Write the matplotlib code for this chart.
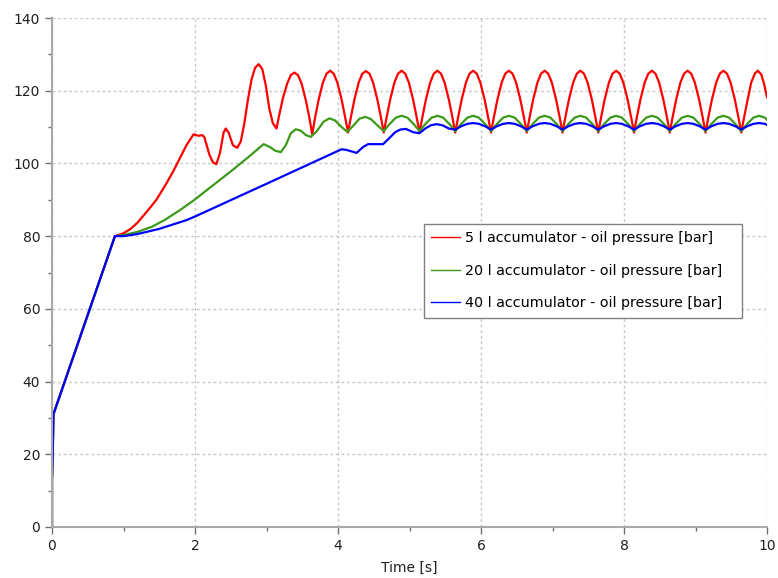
import numpy as np
import matplotlib
matplotlib.use('Agg')
import matplotlib.pyplot as plt

# 5 l accumulator (red)
t_5l = [0.0, 0.0, 0.01, 0.02, 0.88, 1.0, 1.1, 1.2, 1.35, 1.46, 1.6, 1.7, 1.88, 1.98,
        2.05, 2.1, 2.13, 2.2, 2.25, 2.3, 2.35, 2.4, 2.43, 2.47, 2.53, 2.59,
        2.64, 2.69, 2.74, 2.79, 2.84, 2.89, 2.94, 2.99, 3.04, 3.09,
        3.14, 3.18, 3.23, 3.29, 3.34, 3.39, 3.44, 3.49, 3.55, 3.60,
        3.64, 3.68, 3.73, 3.79, 3.84, 3.89, 3.94, 3.99, 4.05, 4.10,
        4.14, 4.18, 4.23, 4.29, 4.34, 4.39, 4.44, 4.49, 4.55, 4.60,
        4.64, 4.68, 4.73, 4.79, 4.84, 4.89, 4.94, 4.99, 5.05, 5.10,
        5.14, 5.18, 5.23, 5.29, 5.34, 5.39, 5.44, 5.49, 5.55, 5.60,
        5.64, 5.68, 5.73, 5.79, 5.84, 5.89, 5.94, 5.99, 6.05, 6.10,
        6.14, 6.18, 6.23, 6.29, 6.34, 6.39, 6.44, 6.49, 6.55, 6.60,
        6.64, 6.68, 6.73, 6.79, 6.84, 6.89, 6.94, 6.99, 7.05, 7.10,
        7.14, 7.18, 7.23, 7.29, 7.34, 7.39, 7.44, 7.49, 7.55, 7.60,
        7.64, 7.68, 7.73, 7.79, 7.84, 7.89, 7.94, 7.99, 8.05, 8.10,
        8.14, 8.18, 8.23, 8.29, 8.34, 8.39, 8.44, 8.49, 8.55, 8.60,
        8.64, 8.68, 8.73, 8.79, 8.84, 8.89, 8.94, 8.99, 9.05, 9.10,
        9.14, 9.18, 9.23, 9.29, 9.34, 9.39, 9.44, 9.49, 9.55, 9.60,
        9.64, 9.68, 9.73, 9.78, 9.83, 9.87, 9.92, 9.96, 10.0]
p_5l = [0.0, 13.0, 20.0, 31.0, 80.0, 80.8, 82.0, 83.8, 87.3, 90.0, 94.5, 98.0, 105.0, 108.0,
        107.6, 107.8, 107.3, 102.5, 100.3, 99.8, 103.0, 108.5, 109.6, 108.5, 105.0, 104.3,
        106.0, 111.0, 117.5, 123.0, 126.3, 127.3, 126.0, 121.5, 115.0, 111.0,
        109.6, 113.5, 118.0, 122.0, 124.3, 125.0, 124.3, 122.0, 117.4, 112.5,
        108.0, 112.7, 117.6, 122.3, 124.7, 125.5, 124.7, 122.3, 117.6, 112.7,
        108.5, 112.7, 117.6, 122.3, 124.7, 125.4, 124.7, 122.3, 117.6, 112.7,
        108.5, 112.7, 117.6, 122.3, 124.7, 125.5, 124.7, 122.3, 117.6, 112.7,
        108.5, 112.7, 117.6, 122.3, 124.7, 125.5, 124.7, 122.3, 117.6, 112.7,
        108.5, 112.7, 117.6, 122.3, 124.7, 125.5, 124.7, 122.3, 117.6, 112.7,
        108.5, 112.7, 117.6, 122.3, 124.7, 125.5, 124.7, 122.3, 117.6, 112.7,
        108.5, 112.7, 117.6, 122.3, 124.7, 125.5, 124.7, 122.3, 117.6, 112.7,
        108.5, 112.7, 117.6, 122.3, 124.7, 125.5, 124.7, 122.3, 117.6, 112.7,
        108.5, 112.7, 117.6, 122.3, 124.7, 125.5, 124.7, 122.3, 117.6, 112.7,
        108.5, 112.7, 117.6, 122.3, 124.7, 125.5, 124.7, 122.3, 117.6, 112.7,
        108.5, 112.7, 117.6, 122.3, 124.7, 125.5, 124.7, 122.3, 117.6, 112.7,
        108.5, 112.7, 117.6, 122.3, 124.7, 125.5, 124.7, 122.3, 117.6, 112.7,
        108.5, 112.7, 117.6, 122.3, 124.7, 125.5, 124.5, 121.8, 118.2]

# 20 l accumulator (green)
t_20l = [0.0, 0.0, 0.01, 0.02, 0.88, 1.0, 1.2, 1.4, 1.58, 1.8, 1.98, 2.2, 2.5, 2.75, 2.96,
         3.05, 3.12, 3.2, 3.27, 3.34, 3.41, 3.48, 3.55, 3.62, 3.7, 3.8, 3.88, 3.96, 4.05,
         4.13, 4.22, 4.3, 4.38, 4.46, 4.55,
         4.64, 4.72, 4.81, 4.89, 4.97, 5.06,
         5.14, 5.22, 5.31, 5.39, 5.47, 5.56,
         5.64, 5.72, 5.81, 5.89, 5.97, 6.06,
         6.14, 6.22, 6.31, 6.39, 6.47, 6.56,
         6.64, 6.72, 6.81, 6.89, 6.97, 7.06,
         7.14, 7.22, 7.31, 7.39, 7.47, 7.56,
         7.64, 7.72, 7.81, 7.89, 7.97, 8.06,
         8.14, 8.22, 8.31, 8.39, 8.47, 8.56,
         8.64, 8.72, 8.81, 8.89, 8.97, 9.06,
         9.14, 9.22, 9.31, 9.39, 9.47, 9.56,
         9.64, 9.72, 9.81, 9.89, 9.97, 10.0]
p_20l = [0.0, 13.0, 20.0, 31.0, 80.0, 80.3, 81.2, 82.6, 84.5, 87.3, 89.8, 93.2, 97.8, 101.8, 105.3,
         104.5, 103.5, 103.1, 105.0, 108.3, 109.4, 109.0, 107.8, 107.3, 108.8, 111.5, 112.4, 111.8, 110.0,
         108.7, 110.5, 112.3, 112.8, 112.2, 110.5,
         108.9, 110.8, 112.6, 113.1, 112.6, 110.8,
         108.9, 110.8, 112.6, 113.1, 112.6, 110.8,
         108.9, 110.8, 112.6, 113.1, 112.6, 110.8,
         108.9, 110.8, 112.6, 113.1, 112.6, 110.8,
         108.9, 110.8, 112.6, 113.1, 112.6, 110.8,
         108.9, 110.8, 112.6, 113.1, 112.6, 110.8,
         108.9, 110.8, 112.6, 113.1, 112.6, 110.8,
         108.9, 110.8, 112.6, 113.1, 112.6, 110.8,
         108.9, 110.8, 112.6, 113.1, 112.6, 110.8,
         108.9, 110.8, 112.6, 113.1, 112.6, 110.8,
         108.9, 110.8, 112.6, 113.1, 112.6, 112.0]

# 40 l accumulator (blue)
t_40l = [0.0, 0.0, 0.01, 0.02, 0.88, 1.0, 1.2, 1.5, 1.88, 2.0, 3.0, 4.05,
         4.12, 4.26, 4.35, 4.42, 4.63, 4.72, 4.8, 4.87, 4.95, 5.05,
         5.14, 5.22, 5.3, 5.38, 5.46, 5.55,
         5.64, 5.72, 5.81, 5.89, 5.97, 6.06,
         6.14, 6.22, 6.31, 6.39, 6.47, 6.56,
         6.64, 6.72, 6.81, 6.89, 6.97, 7.06,
         7.14, 7.22, 7.31, 7.39, 7.47, 7.56,
         7.64, 7.72, 7.81, 7.89, 7.97, 8.06,
         8.14, 8.22, 8.31, 8.39, 8.47, 8.56,
         8.64, 8.72, 8.81, 8.89, 8.97, 9.06,
         9.14, 9.22, 9.31, 9.39, 9.47, 9.56,
         9.64, 9.72, 9.81, 9.89, 9.97, 10.0]
p_40l = [0.0, 13.0, 20.0, 31.0, 80.0, 80.0, 80.6, 82.0, 84.4, 85.4, 94.4, 103.9,
         103.7, 102.9, 104.5, 105.3, 105.3, 107.0, 108.6, 109.3, 109.5, 108.6,
         108.3, 109.6, 110.5, 110.8, 110.5, 109.6,
         109.3, 110.2, 110.9, 111.1, 110.9, 110.2,
         109.3, 110.2, 110.9, 111.1, 110.9, 110.2,
         109.3, 110.2, 110.9, 111.1, 110.9, 110.2,
         109.3, 110.2, 110.9, 111.1, 110.9, 110.2,
         109.3, 110.2, 110.9, 111.1, 110.9, 110.2,
         109.3, 110.2, 110.9, 111.1, 110.9, 110.2,
         109.3, 110.2, 110.9, 111.1, 110.9, 110.2,
         109.3, 110.2, 110.9, 111.1, 110.9, 110.2,
         109.3, 110.2, 110.9, 111.1, 110.9, 110.6]

labels = ['5 l accumulator - oil pressure [bar]',
          '20 l accumulator - oil pressure [bar]',
          '40 l accumulator - oil pressure [bar]']
colors = ['#ff0000', '#3c9a1a', '#0000ff']

plt.rcParams['font.family'] = ['DejaVu Sans']

fig = plt.figure(figsize=(7.78, 5.78), dpi=100)
ax = fig.add_axes([52 / 778, 1 - 527 / 578, 715 / 778, 509 / 578])

series = [(t_5l, p_5l), (t_20l, p_20l), (t_40l, p_40l)]
for (t, p), lab, col in zip(series, labels, colors):
    ax.plot(t, p, color=col, lw=1.6, label=lab, solid_joinstyle='round')

ax.set_xlim(0, 10)
ax.set_ylim(0, 140)
ax.set_xticks(np.arange(0, 11, 2))
ax.set_xticks(np.arange(1, 10, 2), minor=True)
ax.set_yticks(np.arange(0, 141, 20))
ax.set_yticks(np.arange(10, 140, 20), minor=True)

ax.grid(True, which='major', linestyle=(0, (2, 2)), color='#c8c8c8', lw=1.0)
for side in ['top', 'right']:
    ax.spines[side].set_visible(False)
for side in ['left', 'bottom']:
    ax.spines[side].set_color('#a8a8a8')
    ax.spines[side].set_linewidth(1.5)

ax.tick_params(which='major', length=5, width=1, color='#707070', labelsize=10, labelcolor='#202020')
ax.tick_params(which='minor', length=3, width=1, color='#707070')
ax.set_xlabel('Time [s]', fontsize=10, color='#202020', labelpad=6)

# legend box spans fixed axes region
leg = ax.legend(loc='upper left', bbox_to_anchor=(0.52, 0.405, 0.4457, 0.19), mode='expand',
                fontsize=10.3, frameon=True, fancybox=False, edgecolor='#808080', framealpha=1,
                handlelength=2.0, handletextpad=0.35, labelspacing=1.3, borderpad=0.5,
                borderaxespad=0)
leg.get_frame().set_linewidth(1.0)
for h in leg.get_lines():
    h.set_linewidth(1.0)

fig.savefig('out.png', dpi=100)
